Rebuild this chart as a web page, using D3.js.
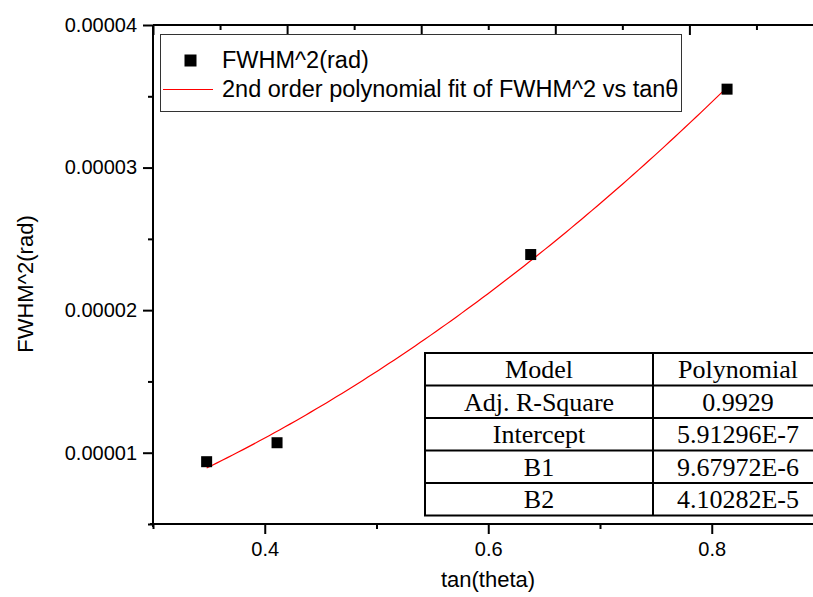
<!DOCTYPE html>
<html>
<head>
<meta charset="utf-8">
<script src="https://cdn.jsdelivr.net/npm/d3@7"></script>
<style>
  html, body { margin: 0; padding: 0; background: #fff; }
  svg { display: block; }
  text { font-family: "Liberation Sans", Arial, sans-serif; fill: #000; }
  .tbl text { font-family: "Liberation Serif", "Times New Roman", serif; }
</style>
</head>
<body>
<svg id="chart" width="813" height="597"></svg>
<script>
// Measured FWHM^2 against tan(theta)
const tanTheta = [0.348, 0.411, 0.638, 0.8137];
const fwhm2 = [0.00000937, 0.0000107, 0.0000239, 0.0000355];

// Polynomial fit coefficients (y = Intercept + B1*x + B2*x^2)
const fitIntercept = 5.91296e-7;
const fitB1 = 9.67972e-6;
const fitB2 = 4.10282e-5;

// Axis ticks
const xTicks = [0.4, 0.6, 0.8];
const xMinorTicks = [0.3, 0.5, 0.7, 0.9];
const yTicks = [0.00001, 0.00002, 0.00003, 0.00004];
const yMinorTicks = [0.000005, 0.000015, 0.000025, 0.000035];
const yTickLabels = ["0.00001", "0.00002", "0.00003", "0.00004"];

// Fit summary table
const tableLabels = ["Model", "Adj. R-Square", "Intercept", "B1", "B2"];
const tableValues = ["Polynomial", "0.9929", "5.91296E-7", "9.67972E-6", "4.10282E-5"];

const svg = d3.select("#chart");
const L = 153, R = 823.5, T = 25, B = 524;

const x = d3.scaleLinear().domain([0.3, 0.9]).range([L, R]);
const y = d3.scaleLinear().domain([0.000005, 0.00004]).range([B, T]);
// Mirror frame axes use their own divisions
const xTop = d3.scaleLinear().domain([0, 10]).range([L, R]);
const yRight = d3.scaleLinear().domain([0, 5]).range([B, T]);

// Bottom axis
const gx = svg.append("g").attr("transform", `translate(0,${B})`);
gx.call(d3.axisBottom(x).tickValues(xTicks).tickSize(10).tickPadding(8).tickFormat(d3.format(".1f")));
gx.append("g").call(d3.axisBottom(x).tickValues(xMinorTicks).tickSize(5).tickFormat(""));
gx.selectAll(".domain").remove();
gx.append("line").attr("x1", L - 3).attr("x2", R).attr("y1", 0).attr("y2", 0)
  .attr("stroke", "#000").attr("stroke-width", 2);

// Left axis
const gy = svg.append("g").attr("transform", `translate(${L},0)`);
gy.call(d3.axisLeft(y).tickValues(yTicks).tickSize(10).tickPadding(6)
  .tickFormat((d, i) => yTickLabels[i]));
gy.append("g").call(d3.axisLeft(y).tickValues(yMinorTicks).tickSize(5).tickFormat(""));
gy.selectAll(".domain").remove();
gy.append("line").attr("x1", 0).attr("x2", 0).attr("y1", T).attr("y2", B + 3)
  .attr("stroke", "#000").attr("stroke-width", 2);

// Top frame axis (ticks inward)
const gt = svg.append("g").attr("transform", `translate(0,${T})`);
gt.call(d3.axisBottom(xTop).tickValues(d3.range(0, 11, 2)).tickSize(10).tickFormat(""));
gt.append("g").call(d3.axisBottom(xTop).tickValues(d3.range(1, 11, 2)).tickSize(5).tickFormat(""));
gt.selectAll(".domain").remove();
gt.append("line").attr("x1", L).attr("x2", R).attr("y1", 0).attr("y2", 0)
  .attr("stroke", "#000").attr("stroke-width", 2);

// Right frame axis (ticks inward)
const gr = svg.append("g").attr("transform", `translate(${R},0)`);
gr.call(d3.axisLeft(yRight).tickValues(d3.range(0, 6)).tickSize(10).tickFormat(""));
gr.selectAll(".domain").remove();
gr.append("line").attr("x1", 0).attr("x2", 0).attr("y1", T).attr("y2", B)
  .attr("stroke", "#000").attr("stroke-width", 2);

svg.selectAll(".tick line").attr("stroke", "#000").attr("stroke-width", 2);
svg.selectAll(".tick text").style("font-size", "20px").style("font-family", "Liberation Sans, Arial, sans-serif");

// Axis titles
svg.append("text").attr("x", 488).attr("y", 587)
  .attr("text-anchor", "middle").style("font-size", "22px").text("tan(theta)");
svg.append("text").attr("transform", "translate(33,284) rotate(-90)")
  .attr("text-anchor", "middle").style("font-size", "22px").text("FWHM^2(rad)");

// Fit curve over the data range
const fitFn = v => fitIntercept + fitB1 * v + fitB2 * v * v;
const x0 = d3.min(tanTheta), x1 = d3.max(tanTheta);
const fitPts = d3.range(0, 101).map(i => {
  const v = x0 + (x1 - x0) * i / 100;
  return [v, fitFn(v)];
});
svg.append("path").datum(fitPts)
  .attr("fill", "none").attr("stroke", "#ff0000").attr("stroke-width", 1.2)
  .attr("d", d3.line().x(d => x(d[0])).y(d => y(d[1])));

// Data points
const sq = 11;
svg.append("g").selectAll("rect").data(tanTheta).join("rect")
  .attr("x", d => x(d) - sq / 2)
  .attr("y", (d, i) => y(fwhm2[i]) - sq / 2)
  .attr("width", sq).attr("height", sq)
  .attr("fill", "#000");

// Legend
const lg = svg.append("g");
lg.append("rect").attr("x", 160.5).attr("y", 34.5).attr("width", 521).attr("height", 77)
  .attr("fill", "#fff").attr("stroke", "#333").attr("stroke-width", 1);
lg.append("rect").attr("x", 184.5).attr("y", 54.5).attr("width", 12).attr("height", 12).attr("fill", "#000");
lg.append("line").attr("x1", 163).attr("x2", 213).attr("y1", 89.5).attr("y2", 89.5)
  .attr("stroke", "#ff0000").attr("stroke-width", 1);
lg.append("text").attr("x", 222).attr("y", 68).style("font-size", "23.5px").text("FWHM^2(rad)");
lg.append("text").attr("x", 222).attr("y", 97).style("font-size", "23.5px")
  .text("2nd order polynomial fit of FWHM^2 vs tan\u03B8");

// Fit summary table
const tb = svg.append("g").attr("class", "tbl");
const tL = 425, tMid = 653, tR = 825, tTop = 353, rowH = 32.5;
const rows = tableLabels.map((lab, i) => ({ lab, val: tableValues[i], i }));
tb.append("rect").attr("x", tL).attr("y", tTop).attr("width", tR - tL).attr("height", rowH * rows.length)
  .attr("fill", "#fff").attr("stroke", "#000").attr("stroke-width", 2);
tb.selectAll("line.row").data(rows.slice(1)).join("line").attr("class", "row")
  .attr("x1", tL).attr("x2", tR)
  .attr("y1", d => tTop + rowH * d.i).attr("y2", d => tTop + rowH * d.i)
  .attr("stroke", "#000").attr("stroke-width", 2);
tb.append("line").attr("x1", tMid).attr("x2", tMid).attr("y1", tTop).attr("y2", tTop + rowH * rows.length)
  .attr("stroke", "#000").attr("stroke-width", 2);
tb.selectAll("text.lab").data(rows).join("text").attr("class", "lab")
  .attr("x", (tL + tMid) / 2).attr("y", d => tTop + rowH * d.i + 25)
  .attr("text-anchor", "middle").style("font-size", "26px").text(d => d.lab);
tb.selectAll("text.val").data(rows).join("text").attr("class", "val")
  .attr("x", 738).attr("y", d => tTop + rowH * d.i + 25)
  .attr("text-anchor", "middle").style("font-size", "26px").text(d => d.val);
</script>
</body>
</html>
